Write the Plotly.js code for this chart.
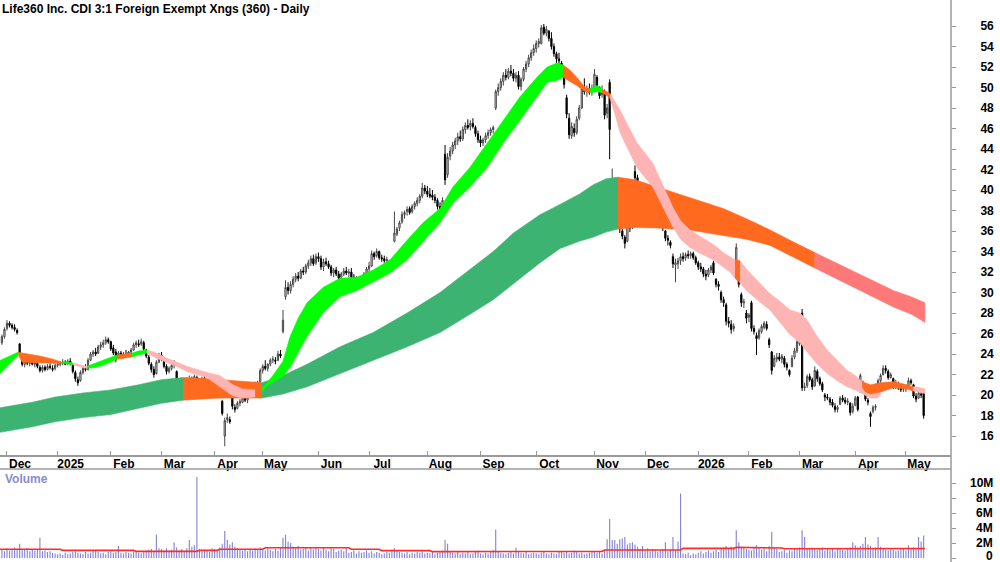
<!DOCTYPE html>
<html><head><meta charset="utf-8">
<script src="https://cdn.plot.ly/plotly-3.0.1.min.js"></script>
<style>html,body{margin:0;padding:0;background:#fff}#chart{width:1000px;height:562px}</style>
</head><body><div id="chart"></div>
<script>
const TITLE = 'Life360 Inc. CDI 3:1 Foreign Exempt Xngs (360) - Daily';
// x = trading-day index; 0 = first trading day of Dec 2024
const FIRST_INDEX = -2;
const MONTH_TICKS = [0,20,41,61,82,101,123,143,166,187,209,232,252,273,293,313,335,355];
const MONTH_LABELS = ['Dec','2025','Feb','Mar','Apr','May','Jun','Jul','Aug','Sep','Oct','Nov','Dec','2026','Feb','Mar','Apr','May'];
const PRICE_TICKS = [16,18,20,22,24,26,28,30,32,34,36,38,40,42,44,46,48,50,52,54,56];
const VOLUME_TICKS = [0,2,4,6,8,10];
const VOLUME_TICK_TEXT = ['0','2M','4M','6M','8M','10M'];

const OPEN = [
25.1,25.7,26.5,27.0,26.8,26.6,26.3,25.0,23.5,23.0,23.3,23.1,23.2,23.0,23.1,22.7,22.4,22.7,22.5,22.8,22.6,22.6,
22.9,23.0,23.1,23.2,23.1,23.3,23.0,22.2,21.5,21.4,22.2,22.6,22.5,23.4,24.0,24.2,24.1,24.7,24.9,25.1,25.4,
25.2,24.6,24.2,23.6,24.1,23.9,24.0,23.9,24.2,24.4,24.9,25.0,25.0,25.1,24.4,23.7,23.0,22.5,22.1,23.2,
23.9,23.4,22.8,22.3,22.6,22.9,22.3,21.1,21.3,21.2,21.4,21.3,21.6,21.3,21.7,21.2,21.2,21.6,21.3,20.9,20.9,
20.1,20.5,20.4,19.4,16.0,17.6,17.6,20.5,18.8,18.7,19.2,19.3,19.7,19.5,19.9,20.4,20.7,21.1,21.3,
22.4,22.8,22.6,23.0,23.4,23.4,23.4,24.0,26.2,29.6,30.5,30.2,30.8,31.3,31.6,31.4,32.1,32.0,32.6,32.9,33.3,32.9,
33.5,33.3,32.5,33.0,32.8,32.5,31.9,32.2,31.8,31.5,31.8,32.1,31.9,32.0,31.5,31.2,31.2,30.8,31.4,31.8,
32.3,32.6,33.8,33.6,34.0,33.4,33.3,33.1,33.0,32.6,35.0,35.7,36.3,36.9,37.6,37.9,38.2,37.9,38.4,38.7,39.0,39.4,40.2,
39.9,39.6,39.5,39.3,39.0,38.4,38.3,43.5,41.5,43.3,43.8,44.4,44.8,45.2,45.0,45.9,46.3,46.2,46.5,46.1,45.5,
44.9,44.6,44.9,45.3,45.6,45.9,48.0,49.6,50.0,50.6,51.2,51.0,51.6,51.4,50.9,51.2,50.1,50.8,51.8,52.3,52.9,53.4,
53.8,54.3,54.3,55.9,55.3,55.5,54.8,54.0,53.3,52.8,52.4,51.4,49.0,47.0,45.3,46.0,45.6,47.0,48.0,50.0,49.6,49.9,49.6,
50.0,51.0,50.0,49.3,49.5,47.5,50.5,39.9,40.4,38.2,37.4,36.0,35.4,35.0,36.6,36.4,41.8,41.2,40.3,39.7,
39.0,38.4,38.1,38.3,39.5,38.9,38.0,37.1,36.0,35.3,34.9,33.5,32.7,32.8,33.1,33.5,33.4,33.7,33.6,33.8,33.4,
32.9,32.5,32.3,31.8,31.7,32.2,32.9,31.3,30.8,30.0,29.3,28.8,27.2,26.9,26.5,32.6,32.0,29.8,29.0,28.0,
27.6,29.0,26.5,25.8,25.6,26.2,26.6,26.9,25.4,24.2,22.8,23.5,23.7,23.5,23.6,23.0,22.4,22.8,23.7,24.3,
25.0,28.0,20.7,20.9,21.8,21.5,20.9,22.3,21.6,21.1,20.0,19.8,19.6,19.3,18.9,18.6,19.1,19.7,19.5,19.3,19.2,18.4,
19.0,19.8,20.3,21.2,20.3,19.5,18.2,18.4,18.8,20.0,21.4,22.0,22.6,22.3,21.7,21.6,20.8,21.1,20.7,20.6,
20.6,20.9,21.4,21.0,19.9,19.7,20.1,20.3];
const HIGH = [
25.9,26.6,27.3,27.2,27.0,26.9,26.5,25.0,23.7,23.6,23.5,23.4,23.6,23.3,23.3,22.9,22.9,22.9,23.0,23.1,22.9,23.1,
23.2,23.3,23.5,23.4,23.5,23.6,23.1,22.4,21.8,22.4,22.8,23.0,23.6,24.2,24.4,24.6,24.9,25.2,25.4,25.7,25.6,
25.3,24.9,24.5,24.3,24.3,24.2,24.4,24.3,24.6,25.1,25.3,25.4,25.5,25.3,24.5,23.9,23.2,22.8,23.4,24.1,
24.2,23.6,23.0,22.8,23.2,23.4,22.4,21.5,21.6,21.6,21.7,21.9,21.8,22.0,21.9,21.3,21.8,21.9,21.4,21.2,21.0,
20.7,20.7,20.6,19.5,17.8,18.2,17.9,20.8,19.1,19.4,19.6,19.9,20.0,19.9,20.6,20.8,21.3,21.4,22.6,
23.0,23.4,23.1,23.6,23.8,23.7,24.3,24.4,28.3,31.2,31.0,31.1,31.6,31.9,32.0,32.3,32.5,32.8,33.2,33.6,33.7,33.8,
33.9,33.6,33.3,33.4,33.1,32.7,32.4,32.5,32.1,32.0,32.4,32.5,32.3,32.4,31.8,31.6,31.4,31.6,32.0,32.5,
33.0,34.1,34.0,34.3,34.1,33.7,33.6,33.5,33.2,33.0,37.9,36.4,37.0,37.9,38.0,38.4,38.4,38.6,38.9,39.3,39.6,40.7,40.5,
40.4,40.2,40.0,39.6,39.2,38.8,39.3,44.4,43.6,44.2,44.7,45.1,45.6,45.8,46.2,46.6,46.9,46.8,47.0,46.3,45.8,
45.3,45.1,45.6,45.9,46.1,46.3,49.8,50.4,50.9,51.5,51.8,51.9,52.2,51.8,51.5,51.6,51.0,52.0,52.6,53.2,53.7,54.2,
54.6,54.8,56.1,56.2,56.0,55.6,55.4,54.3,53.5,53.4,52.6,51.7,49.3,47.5,46.6,46.5,47.2,48.3,50.3,50.9,50.2,50.4,50.3,
51.8,51.2,50.1,50.2,49.8,48.4,50.8,42.1,41.2,38.4,37.6,36.2,35.6,36.9,37.0,39.4,42.4,41.5,40.6,40.0,
39.3,38.8,38.6,39.8,39.9,39.0,38.2,37.3,36.1,35.6,35.1,33.8,33.3,33.4,33.8,33.9,33.9,34.1,34.0,34.0,33.6,
33.1,32.9,32.5,32.2,32.4,32.7,33.1,31.4,31.1,30.2,29.6,29.0,27.6,27.3,27.0,34.8,32.2,30.0,29.4,28.3,
28.0,29.2,26.8,26.1,26.5,26.9,27.2,27.2,25.6,24.3,23.9,24.1,24.1,24.0,23.8,23.2,22.5,23.9,24.6,25.6,
25.9,28.4,21.2,22.0,22.1,21.7,22.8,22.5,21.8,21.3,20.2,20.1,19.8,19.6,19.2,19.0,19.9,20.0,19.8,19.7,19.3,19.2,
19.9,19.9,22.1,21.4,20.5,19.7,18.4,19.0,19.1,21.6,22.1,22.9,22.9,22.5,22.2,21.7,21.5,21.3,21.0,20.9,
21.0,21.7,21.6,21.1,20.2,20.5,20.4,20.5];
const LOW = [
24.9,25.5,26.3,26.6,26.4,26.2,25.9,23.9,22.8,22.7,22.9,22.8,22.9,22.7,22.6,22.2,22.2,22.3,22.4,22.5,22.3,22.4,
22.7,22.8,22.9,22.9,22.9,22.9,22.1,21.3,20.9,21.3,22.0,22.3,22.4,23.3,23.7,23.8,24.0,24.4,24.6,24.9,25.0,
24.3,23.9,23.2,23.5,23.6,23.6,23.7,23.7,24.0,24.3,24.6,24.7,24.8,24.3,23.6,22.9,22.2,21.7,22.0,23.1,
23.3,22.6,22.0,22.1,22.4,22.6,20.8,20.8,20.9,20.9,21.0,21.1,21.1,21.0,21.0,20.3,21.1,21.2,20.7,20.6,19.8,
19.9,20.1,20.0,18.0,15.0,17.3,17.2,18.6,18.3,18.6,18.9,19.2,19.3,19.2,19.8,20.2,20.5,20.8,21.2,
22.1,22.4,22.3,22.8,23.1,23.0,23.3,23.6,26.0,29.3,29.8,29.9,30.5,31.0,31.1,31.3,31.7,31.8,32.3,32.6,32.6,32.7,
33.0,32.2,32.1,32.6,32.3,31.6,31.5,31.6,31.1,31.2,31.6,31.7,31.5,31.3,30.9,30.8,30.4,30.5,31.2,31.6,
32.0,32.5,33.2,33.4,33.2,33.0,32.9,32.8,32.2,32.3,34.9,35.5,36.0,36.7,37.2,37.5,37.6,37.7,38.1,38.4,38.7,39.2,39.6,
39.3,39.2,39.0,38.7,38.1,37.7,38.0,40.5,41.2,42.9,43.5,44.0,44.4,44.7,44.8,45.5,45.9,45.8,46.0,45.2,44.6,
44.2,44.3,44.6,45.0,45.3,45.5,47.8,49.2,49.7,50.2,50.7,50.8,51.1,50.6,50.5,49.8,49.7,50.6,51.5,52.0,52.6,53.1,
53.4,53.9,54.2,55.1,55.0,54.5,53.7,53.0,52.4,52.2,51.2,49.9,47.0,45.0,45.0,45.2,45.4,46.8,47.9,49.3,49.1,49.3,49.2,
49.6,49.8,48.9,49.0,46.9,47.0,43.0,38.7,38.8,36.9,35.8,35.2,34.3,34.9,35.9,36.2,40.8,40.0,39.4,38.7,
38.1,37.8,37.6,38.1,38.7,37.8,36.8,36.0,35.0,34.6,34.3,32.4,31.0,32.3,32.7,33.0,33.1,33.3,33.3,33.2,32.7,
32.2,32.0,31.5,31.2,31.5,31.9,31.7,30.5,30.2,29.0,28.6,26.8,26.6,26.0,26.2,32.4,30.5,28.6,28.5,27.0,
27.1,26.2,25.9,23.9,25.4,26.0,26.4,26.3,24.6,22.0,22.7,23.2,23.3,23.1,22.7,22.4,21.8,22.7,23.5,24.1,
24.8,20.4,20.4,20.7,21.3,20.5,20.8,21.3,20.9,20.3,19.4,19.5,19.0,18.8,18.3,18.3,19.0,19.3,19.1,19.0,18.0,18.2,
18.9,18.4,20.2,20.1,19.4,19.0,16.9,18.2,18.5,19.9,21.2,21.9,22.1,21.5,21.6,20.6,20.6,20.5,20.3,20.3,
20.3,20.8,21.0,19.7,19.3,19.6,19.7,17.7];
const CLOSE = [
25.7,26.4,27.0,26.8,26.6,26.4,26.1,24.1,23.0,23.3,23.1,23.2,23.0,23.1,22.8,22.4,22.7,22.5,22.8,22.7,22.5,22.9,
23.0,23.1,23.2,23.0,23.3,23.1,22.3,21.6,21.2,22.2,22.6,22.5,23.4,24.0,24.2,24.0,24.7,24.9,25.1,25.4,25.2,
24.5,24.1,23.5,24.1,23.8,24.0,23.9,24.2,24.4,24.9,25.1,24.9,25.2,24.5,23.8,23.1,22.5,22.0,23.2,23.9,
23.5,22.8,22.3,22.6,22.9,23.1,21.1,21.3,21.1,21.4,21.2,21.6,21.3,21.8,21.2,20.6,21.6,21.4,20.9,21.0,20.1,
20.5,20.3,20.2,18.2,17.5,17.8,17.4,18.9,18.6,19.2,19.4,19.7,19.5,19.8,20.4,20.6,21.1,21.2,22.4,
22.8,22.6,23.0,23.4,23.5,23.3,24.0,23.8,27.3,30.5,30.2,30.8,31.3,31.6,31.4,32.1,32.0,32.6,32.9,33.3,32.8,33.5,
33.3,32.5,33.0,32.8,32.5,31.9,32.2,31.8,31.4,31.8,32.1,31.9,32.0,31.5,31.2,31.3,30.7,31.4,31.8,32.3,
32.6,33.8,33.5,34.0,33.4,33.3,33.1,33.2,32.5,32.8,35.8,36.2,36.8,37.6,37.8,38.1,37.8,38.4,38.7,39.0,39.4,40.2,39.9,
39.6,39.4,39.3,39.0,38.4,38.0,39.0,41.0,43.2,43.8,44.4,44.8,45.2,45.0,45.9,46.3,46.1,46.5,46.2,45.5,44.9,
44.6,44.9,45.3,45.6,45.9,46.1,49.6,50.0,50.6,51.2,51.0,51.6,51.4,50.9,51.2,50.1,50.8,51.8,52.3,52.9,53.4,53.8,
54.3,54.5,55.8,55.3,55.7,54.8,54.0,53.3,52.8,52.6,51.5,50.3,47.4,45.4,46.2,45.6,46.9,48.0,49.9,49.6,49.9,49.5,49.8,
51.3,50.0,49.2,49.6,47.3,48.0,45.9,40.2,40.1,37.5,36.2,35.5,34.8,36.6,36.3,39.0,41.2,40.3,39.7,39.0,
38.4,38.1,38.3,39.6,38.9,38.0,37.1,36.3,35.3,35.1,34.6,32.8,32.9,33.1,33.5,33.3,33.7,33.6,33.8,33.4,32.9,
32.5,32.3,31.8,31.6,32.2,32.5,31.9,30.8,30.6,29.3,29.0,27.2,27.0,26.4,26.7,34.4,30.8,29.0,29.1,27.5,
27.8,26.5,26.2,25.5,26.3,26.7,27.0,26.5,24.9,22.4,23.6,23.7,23.5,23.8,23.0,22.7,22.0,23.6,24.3,25.2,
25.5,20.7,20.8,21.8,21.5,20.8,22.4,21.6,21.1,20.5,19.8,19.7,19.3,19.0,18.6,18.8,19.7,19.5,19.3,19.4,18.3,18.9,
19.7,18.6,21.9,20.3,19.6,19.3,17.9,18.8,18.9,21.4,21.9,22.6,22.4,21.7,22.0,20.8,21.2,20.7,20.5,20.6,
20.8,21.4,21.2,19.9,19.6,20.2,20.0,18.0];
// daily volume, millions of shares
const VOLUME = [
1.1,0.9,1.3,1.0,1.2,1.4,1.1,1.9,1.2,1.1,1.3,0.9,1.2,1.0,1.1,2.7,0.9,1.0,0.8,0.9,0.7,0.6,
0.5,0.6,0.4,0.7,0.5,0.6,0.8,0.9,0.7,0.6,0.5,0.8,0.6,0.7,0.9,1.0,0.8,0.6,0.7,0.5,0.8,
0.9,0.7,0.8,1.6,0.7,0.6,0.8,0.7,0.6,0.9,0.8,0.7,0.6,0.9,1.0,1.1,1.2,0.9,3.1,1.3,
1.2,1.0,1.3,0.9,1.1,2.1,1.4,1.0,1.2,0.9,1.3,2.4,1.5,1.7,10.8,1.2,0.9,1.1,1.0,0.8,1.3,
1.2,1.0,1.4,1.9,3.6,2.4,1.8,2.1,1.5,1.3,1.2,1.0,1.1,0.9,1.2,1.0,1.3,1.1,1.4,
1.2,1.0,1.3,1.1,0.9,1.2,1.0,1.4,2.7,3.1,2.2,2.0,1.5,1.3,1.6,1.1,1.2,1.4,1.0,1.3,1.1,1.5,
1.2,1.0,1.4,1.1,0.9,1.3,1.2,0.8,1.0,1.1,0.9,1.3,0.7,0.8,1.0,0.6,0.9,0.7,0.8,1.0,
0.7,0.9,0.6,0.8,0.7,0.5,0.6,0.8,0.7,0.9,1.3,1.0,0.8,0.7,0.6,0.8,0.5,0.7,0.6,0.8,0.7,0.9,0.6,
0.7,0.6,0.8,0.5,0.7,0.9,1.0,2.4,1.9,0.9,0.7,0.6,0.8,0.5,0.7,0.6,0.9,0.5,0.6,0.8,1.0,
0.6,0.5,0.7,0.6,0.8,1.1,3.8,0.9,0.7,0.6,0.5,0.7,0.8,0.6,1.4,0.9,0.7,0.6,0.8,0.5,0.6,0.7,
0.6,0.5,0.7,0.8,0.6,0.5,0.7,0.6,0.5,0.8,0.9,0.7,0.8,0.6,0.7,1.0,0.8,0.6,0.7,0.5,0.6,0.7,0.8,
0.9,0.7,0.8,0.6,1.0,2.5,5.2,2.4,2.4,1.9,2.5,2.6,2.8,1.8,2.0,2.1,1.8,1.5,1.2,1.6,
1.0,1.3,0.9,1.2,1.1,0.8,1.0,1.2,2.1,0.9,1.1,2.8,1.0,2.2,8.6,0.6,0.5,0.7,0.4,0.6,0.5,
0.7,0.9,0.6,0.8,1.0,0.7,0.9,1.1,0.8,1.2,1.4,1.6,1.3,1.5,1.2,3.7,2.1,1.4,1.3,1.2,
1.1,1.0,1.5,1.7,1.4,1.1,1.3,0.9,1.6,3.5,1.4,1.2,0.8,0.9,1.1,0.7,1.0,0.9,1.3,1.2,
1.4,3.7,2.8,1.3,1.2,1.4,1.3,1.1,1.2,1.4,1.0,1.3,1.1,1.2,0.9,1.2,1.3,1.1,1.0,1.2,1.4,2.1,
1.7,1.4,1.6,1.9,2.8,1.8,1.6,1.2,1.4,2.8,1.5,1.3,1.1,1.0,1.2,1.1,0.9,1.0,1.2,1.3,
1.0,1.7,1.2,1.4,1.3,2.8,2.2,3.0];
// volume moving average [index, millions]
const VOLUME_MA = [[-3,1.16],[21,1.16],[22,1.02],[50,1.02],[51,0.89],[75,0.89],[76,1.02],[83,1.02],[84,1.16],[101,1.16],[102,1.37],[135,1.37],[136,1.16],[147,1.16],[148,0.98],[167,0.98],[168,0.85],[200,0.86],[235,0.89],[236,1.07],[266,1.07],[267,1.29],[287,1.29],[288,1.42],[300,1.42],[301,1.33],[306,1.33],[307,1.24],[362.5,1.26]];

// ribbon segments: [index, upper, lower]
const LONG_GREEN_1 = [[-3,18.75,16.35],[10,19.3,16.9],[19,19.8,17.4],[30,20.2,17.8],[41,20.5,18.1],[52,21.0,18.7],[61,21.5,19.2],[69.5,21.7,19.5]];
const LONG_ORANGE_1 = [[69.5,21.7,19.5],[76,21.65,19.6],[84,21.5,19.7],[92,21.35,19.7],[100.7,21.2,19.7]];
const LONG_GREEN_2 = [[100.7,21.2,19.7],[104,21.5,19.85],[109,21.9,20.1],[118.5,23.0,20.8],[131.5,24.7,22.1],[144.6,26.1,23.4],[158,28.0,24.7],[171,30.0,26.1],[183,32.3,27.9],[192,34.0,29.3],[200,35.8,30.9],[210.5,37.6,32.9],[218.4,38.6,34.3],[226,39.6,35.0],[231.4,40.5,35.4],[236.6,41.1,35.9],[241.3,41.25,36.2]];
const LONG_ORANGE_2 = [[241.3,41.25,36.2],[248,41.0,36.35],[256.7,40.3,36.3],[263,39.8,36.2],[269.7,39.2,36.1],[276,38.7,35.9],[282.8,38.2,35.6],[292,37.2,35.2],[301.4,36.1,34.6],[310,35.0,33.5],[319,33.9,32.4]];
const LONG_RED = [[319,33.9,32.4],[330,32.6,31.0],[340,31.4,29.8],[350,30.2,28.6],[357,29.6,27.9],[362.5,29.0,27.1]];

const SHORT_GREEN_1 = [[-3,23.35,22.05],[1,23.8,23.0],[4.5,24.2,23.9]];
const SHORT_ORANGE_1 = [[4.5,24.2,23.9],[6,24.1,23.2],[13,23.8,23.15],[18.2,23.5,23.1],[21.7,23.2,23.1]];
const SHORT_GREEN_2 = [[21.7,23.2,23.1],[24,23.25,23.05],[26,23.1,22.95]];
const SHORT_PINK_1 = [[26,23.1,22.95],[29,22.9,22.75],[31.6,22.8,22.6]];
const SHORT_GREEN_3 = [[31.6,22.8,22.6],[35,23.1,22.7],[38,23.4,22.9],[41,23.7,23.2],[43.4,23.9,23.5]];
const SHORT_ORANGE_2 = [[43.4,23.9,23.5],[46,24.0,23.6],[49.4,24.1,23.7]];
const SHORT_GREEN_4 = [[49.4,24.1,23.7],[52,24.3,23.9],[55.3,24.4,24.1]];
const SHORT_PINK_2 = [[55.3,24.4,24.1],[59,24.1,23.6],[63.2,23.6,23.2],[67,23.2,22.8],[71,22.8,22.3],[75,22.5,22.0],[79,22.2,21.7],[84,21.9,20.8],[89.3,21.0,19.9],[93,20.6,19.7],[98,20.5,19.8]];
const SHORT_ORANGE_3 = [[98,20.5,19.8],[100.7,20.7,20.3]];
const SHORT_GREEN_5 = [[100.7,20.7,20.3],[102.7,21.2,20.9],[105,21.9,21.2],[109,23.3,21.8],[111.8,25.7,22.7],[115,27.5,24.2],[118.5,29.0,25.7],[124.8,30.5,28.0],[131.5,31.4,29.6],[138.2,31.5,30.2],[144.6,32.2,31.0],[151.3,33.2,31.9],[158,35.1,33.2],[164.3,36.8,34.9],[171,38.2,36.8],[176.1,40.3,38.7],[182.8,42.2,40.3],[189.6,44.6,42.2],[196,46.8,44.6],[202.6,49.1,46.8],[209.3,51.0,49.1],[213.3,52.0,50.5],[217.2,52.4,50.7],[219.6,52.2,51.0]];
const SHORT_ORANGE_4 = [[219.6,52.2,51.0],[222.3,51.7,50.6],[225,51.0,50.2],[228.3,50.0,49.6],[230.3,49.9,49.5]];
const SHORT_GREEN_6 = [[230.3,49.9,49.5],[233,50.2,49.6],[235,49.8,49.5]];
const SHORT_ORANGE_5 = [[235,49.8,49.5],[237,49.6,49.2],[238.2,49.4,48.9]];
const SHORT_PINK_3 = [[238.2,49.4,48.9],[240,48.7,47.5],[242.1,47.8,45.6],[245,46.4,44.1],[248.8,44.6,42.2],[252,43.6,41.2],[255.1,42.6,40.3],[259,40.5,38.3],[263,38.3,36.4],[266,37.0,35.2],[269.7,36.1,34.4],[273,35.6,33.9],[276.5,35.1,33.5],[279.5,34.6,33.1],[282.8,33.9,32.5],[285.5,33.5,32.0],[287.5,33.2,31.4]];
const SHORT_ORANGE_6 = [[287.5,33.2,31.4],[289.5,33.1,30.9]];
const SHORT_PINK_4 = [[289.5,33.1,30.9],[292,32.3,30.2],[296.2,31.2,29.3],[301.3,29.9,28.3],[305,29.2,27.2],[309.2,28.3,25.9],[313.2,28.0,25.1],[316,27.3,24.2],[320,25.7,23.0],[323.9,24.4,22.1],[327.8,23.4,21.4],[331.8,22.4,20.8],[335,21.9,20.5],[337.7,21.3,20.1],[341,20.9,19.7],[343.7,20.5,19.7],[345,20.3,20.0]];
const SHORT_ORANGE_7 = [[337.7,21.3,20.8],[339,21.2,20.3],[341,21.0,20.1],[345,21.2,20.3],[350,21.3,20.7],[355.5,21.0,20.6],[357.8,20.8,20.4]];
const SHORT_PINK_5 = [[357.8,20.8,20.4],[360,20.75,20.3],[362.5,20.6,20.15]];

const C_LONG_GREEN = '#3cb371', C_ORANGE = '#ff6a1f', C_LONG_RED = '#ff7878';
const C_SHORT_GREEN = '#00ff00', C_SHORT_PINK = '#ffb4b4';

const FONT = 'Liberation Sans, Arial, Helvetica, sans-serif';
const X = OPEN.map((_, i) => FIRST_INDEX + i);

function band(seg, color) {
  const xs = seg.map(p => p[0]);
  const hi = seg.map(p => p[1]);
  const lo = seg.map(p => p[2]);
  return {type:'scatter', mode:'lines', xaxis:'x', yaxis:'y',
    x: xs.concat(xs.slice().reverse()), y: hi.concat(lo.slice().reverse()),
    fill:'toself', fillcolor:color, line:{color:color, width:0.6}, hoverinfo:'skip'};
}

const traces = [
  band(LONG_GREEN_1, C_LONG_GREEN), band(LONG_ORANGE_1, C_ORANGE), band(LONG_GREEN_2, C_LONG_GREEN),
  band(LONG_ORANGE_2, C_ORANGE), band(LONG_RED, C_LONG_RED),
  band(SHORT_GREEN_1, C_SHORT_GREEN), band(SHORT_ORANGE_1, C_ORANGE), band(SHORT_GREEN_2, C_SHORT_GREEN),
  band(SHORT_PINK_1, C_SHORT_PINK), band(SHORT_GREEN_3, C_SHORT_GREEN), band(SHORT_ORANGE_2, C_ORANGE),
  band(SHORT_GREEN_4, C_SHORT_GREEN), band(SHORT_PINK_2, C_SHORT_PINK), band(SHORT_ORANGE_3, C_ORANGE),
  band(SHORT_GREEN_5, C_SHORT_GREEN), band(SHORT_ORANGE_4, C_ORANGE), band(SHORT_GREEN_6, C_SHORT_GREEN),
  band(SHORT_ORANGE_5, C_ORANGE), band(SHORT_PINK_3, C_SHORT_PINK), band(SHORT_ORANGE_6, C_ORANGE),
  band(SHORT_PINK_4, C_SHORT_PINK), band(SHORT_ORANGE_7, C_ORANGE), band(SHORT_PINK_5, C_SHORT_PINK),
  {type:'candlestick', x:X, open:OPEN, high:HIGH, low:LOW, close:CLOSE, xaxis:'x', yaxis:'y',
   increasing:{line:{color:'#444444', width:1}, fillcolor:'#ffffff'},
   decreasing:{line:{color:'#000000', width:1}, fillcolor:'#000000'},
   whiskerwidth:0, hoverinfo:'skip'},
  {type:'bar', x:X, y:VOLUME, xaxis:'x2', yaxis:'y2', width:0.45,
   marker:{color:'#8585d6', line:{width:0}}, hoverinfo:'skip'},
  {type:'scatter', mode:'lines', x:VOLUME_MA.map(p => p[0]), y:VOLUME_MA.map(p => p[1]),
   xaxis:'x2', yaxis:'y2', line:{color:'#ff2a2a', width:1.6}, hoverinfo:'skip'}
];

const H = 562;
const MAIN_BOTTOM = (H - 455) / H;
const VOL_TOP = (H - 469) / H;
const tickFont = {family:FONT, size:12, color:'#000', weight:700};

const annotations = [
  {text:'Volume', xref:'paper', yref:'paper', x:0.003, y:1 - 479 / H, xanchor:'left', yanchor:'middle',
   showarrow:false, font:{family:FONT, size:12, color:'#8a8acc', weight:700}}
].concat(VOLUME_TICKS.map((v, i) => ({
  text:VOLUME_TICK_TEXT[i], xref:'paper', yref:'y2', x:1, y:v, xanchor:'right', yanchor:'middle',
  xshift:44, yshift:(v === 0 ? 2 : 0), showarrow:false, font:tickFont
})));

const layout = {
  width:1000, height:H, margin:{l:0, r:49, t:0, b:0},
  paper_bgcolor:'#ffffff', plot_bgcolor:'#ffffff', showlegend:false, hovermode:false,
  title:{text:TITLE, xref:'container', x:0.002, xanchor:'left', yref:'container', y:1 - 9 / H, yanchor:'middle',
    font:{family:FONT, size:12, color:'#000', weight:700}},
  xaxis:{domain:[0,1], anchor:'y', range:[-2.76, 372.8], tickmode:'array', tickvals:MONTH_TICKS, ticktext:MONTH_LABELS,
    ticks:'inside', ticklen:4, tickcolor:'#999', showline:true, linecolor:'#9a9a9a', linewidth:2,
    showgrid:false, zeroline:false, tickfont:tickFont, ticklabelshift:13, ticklabelstandoff:-3,
    rangeslider:{visible:false}, fixedrange:true},
  yaxis:{domain:[MAIN_BOTTOM,1], anchor:'x', side:'right', range:[14.15, 58.54], tickmode:'array', tickvals:PRICE_TICKS,
    ticks:'outside', ticklen:4, tickcolor:'#999', showline:false, showgrid:false, zeroline:false,
    tickfont:tickFont, ticklabelstandoff:22, fixedrange:true},
  xaxis2:{domain:[0,1], anchor:'y2', matches:'x', visible:false},
  yaxis2:{domain:[0,VOL_TOP], anchor:'x2', side:'right', range:[-0.533, 11.867], tickmode:'array', tickvals:VOLUME_TICKS,
    ticks:'outside', ticklen:4, tickcolor:'#999', showticklabels:false, showline:false, showgrid:false, zeroline:false, fixedrange:true},
  shapes:[
    {type:'line', xref:'paper', yref:'paper', x0:1, x1:1, y0:0, y1:1, line:{color:'#9a9a9a', width:1.5}},
    {type:'line', xref:'paper', yref:'paper', x0:0, x1:1, y0:VOL_TOP, y1:VOL_TOP, line:{color:'#9a9a9a', width:1.5}}
  ],
  annotations:annotations
};

Plotly.newPlot('chart', traces, layout, {displayModeBar:false, staticPlot:true});
</script></body></html>
